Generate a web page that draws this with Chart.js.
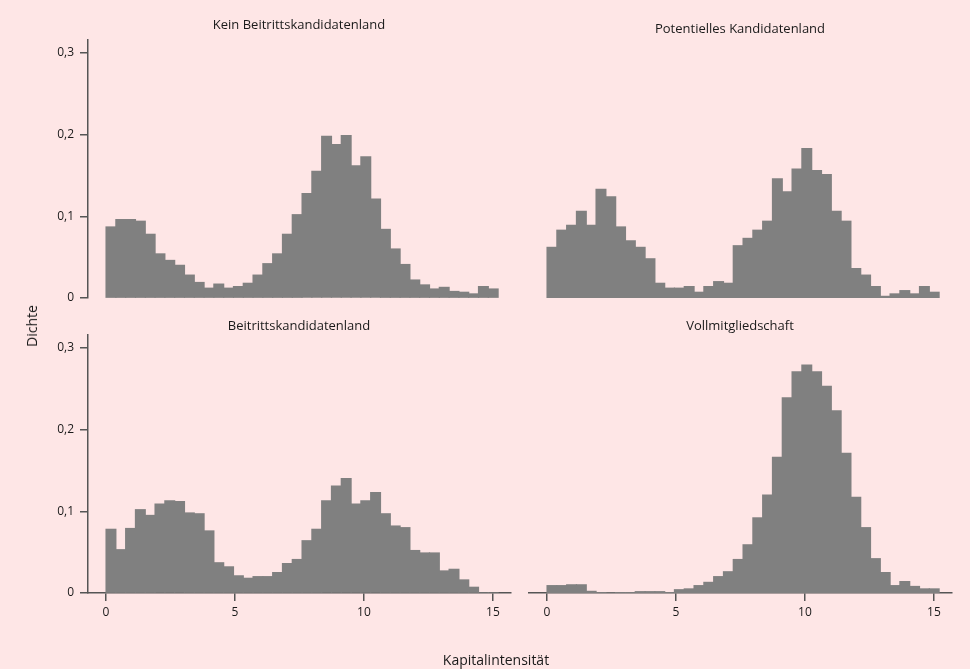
<!DOCTYPE html>
<html><head><meta charset="utf-8">
<script src="https://cdn.jsdelivr.net/npm/chart.js@4/dist/chart.umd.min.js"></script>
<style>
html,body{margin:0;padding:0;background:#fee6e6;}
#wrap{position:relative;width:970px;height:669px;overflow:hidden;font-family:"Open Sans",sans-serif;color:#1a1a1a;}
#wrap canvas{position:absolute;left:0;top:0;}
.lbl{position:absolute;white-space:nowrap;transform:translate(-50%,-50%);line-height:1;}
</style></head><body>
<div id="wrap">
<canvas id="c1" width="970" height="669"></canvas>
<canvas id="c2" width="970" height="669"></canvas>
<canvas id="c3" width="970" height="669"></canvas>
<canvas id="c4" width="970" height="669"></canvas>
<div class="lbl" id="t1" style="left:299px;top:24px;font-size:13px"></div>
<div class="lbl" id="t2" style="left:740px;top:28px;font-size:13px"></div>
<div class="lbl" id="t3" style="left:299px;top:325px;font-size:13px"></div>
<div class="lbl" id="t4" style="left:740px;top:325px;font-size:13px"></div>
<div class="lbl" id="ytitle" style="left:32px;top:326px;font-size:14px;transform:translate(-50%,-50%) rotate(-90deg)"></div>
<div class="lbl" id="xtitle" style="left:496px;top:660px;font-size:14px"></div>
</div>
<script>
// ---- data ----
const binEdges = [0,0.38,0.76,1.14,1.52,1.90,2.28,2.66,3.04,3.42,3.80,4.18,4.56,4.94,5.32,5.70,6.08,6.46,6.84,7.22,7.60,7.98,8.36,8.74,9.12,9.50,9.88,10.26,10.64,11.02,11.40,11.78,12.16,12.54,12.92,13.30,13.68,14.06,14.44,14.82,15.20];
const xTicks = [0,5,10,15];
const yTicks = [0,0.1,0.2,0.3];
const panelTitles = ["Kein Beitrittskandidatenland","Potentielles Kandidatenland","Beitrittskandidatenland","Vollmitgliedschaft"];
const yAxisTitle = "Dichte";
const xAxisTitle = "Kapitalintensität";

const keinBeitritt = [0.087,0.096,0.096,0.094,0.078,0.054,0.046,0.040,0.028,0.019,0.012,0.017,0.012,0.014,0.018,0.028,0.042,0.054,0.078,0.102,0.128,0.155,0.198,0.188,0.199,0.162,0.173,0.121,0.084,0.060,0.041,0.022,0.016,0.011,0.013,0.008,0.007,0.005,0.014,0.011];
const potentiell = [0.062,0.083,0.089,0.106,0.089,0.133,0.124,0.087,0.070,0.062,0.048,0.018,0.012,0.012,0.014,0.007,0.014,0.020,0.018,0.064,0.073,0.083,0.094,0.146,0.130,0.158,0.183,0.156,0.151,0.106,0.094,0.036,0.028,0.014,0.002,0.005,0.009,0.005,0.014,0.007];
const beitritt = [0.078,0.053,0.079,0.102,0.095,0.109,0.113,0.112,0.098,0.097,0.076,0.037,0.032,0.021,0.018,0.020,0.020,0.025,0.036,0.041,0.064,0.078,0.113,0.131,0.140,0.109,0.113,0.123,0.097,0.082,0.080,0.052,0.049,0.049,0.027,0.029,0.016,0.007,0,0];
const vollmitglied = [0.009,0.009,0.010,0.010,0.002,0.0004,0,0.0004,0.0004,0.0016,0.0016,0.0016,0.0004,0.004,0.005,0.009,0.013,0.020,0.026,0.041,0.059,0.092,0.120,0.166,0.239,0.271,0.279,0.271,0.253,0.223,0.171,0.117,0.080,0.042,0.025,0.009,0.014,0.008,0.005,0.005];

// ---- layout / style ----
const W = 970, H = 669;
const X_MIN = -0.7, X_MAX = 15.7, Y_MIN = 0, Y_MAX = 0.316;
const YW = 60, XH = 40;
const AXIS = '#555555', BAR = '#808080', TXT = '#1a1a1a';
const FONT = '"Open Sans", sans-serif';

document.getElementById('t1').textContent = panelTitles[0];
document.getElementById('t2').textContent = panelTitles[1];
document.getElementById('t3').textContent = panelTitles[2];
document.getElementById('t4').textContent = panelTitles[3];
document.getElementById('ytitle').textContent = yAxisTitle;
document.getElementById('xtitle').textContent = xAxisTitle;

const centers = binEdges.slice(0, -1).map((e, i) => (e + binEdges[i + 1]) / 2);
const fmt = v => String(Math.round(v * 10) / 10).replace('.', ',');

const panels = [
  {id:'c1', values:keinBeitritt, plot:{l:88, r:511, t:40,  b:298}, showY:true,  showX:false},
  {id:'c2', values:potentiell,   plot:{l:529,r:952, t:40,  b:298}, showY:false, showX:false},
  {id:'c3', values:beitritt,     plot:{l:88, r:511, t:335, b:593}, showY:true,  showX:true},
  {id:'c4', values:vollmitglied, plot:{l:529,r:952, t:335, b:593}, showY:false, showX:true},
];

panels.forEach(p => {
  const pad = {
    left: p.plot.l - (p.showY ? YW : 0),
    right: W - p.plot.r,
    top: p.plot.t,
    bottom: H - p.plot.b - (p.showX ? XH : 0)
  };
  new Chart(document.getElementById(p.id), {
    type: 'bar',
    data: {
      datasets: [{
        data: centers.map((c, i) => ({x: c, y: p.values[i]})),
        backgroundColor: BAR,
        borderWidth: 0,
        inflateAmount: 0.6,
        barPercentage: 1,
        categoryPercentage: 1
      }]
    },
    options: {
      responsive: false,
      animation: false,
      events: [],
      layout: {padding: pad},
      plugins: {legend: {display: false}, tooltip: {enabled: false}, title: {display: false}},
      scales: {
        x: {
          type: 'linear', min: X_MIN, max: X_MAX, offset: false,
          display: p.showX,
          afterBuildTicks: s => { s.ticks = xTicks.map(v => ({value: v})); },
          afterFit: s => { s.height = p.showX ? XH : 0; },
          grid: {display: true, offset: false, drawOnChartArea: false, drawTicks: true, tickLength: 8, color: AXIS, lineWidth: 1.5},
          border: {display: true, color: AXIS, width: 1.5},
          ticks: {color: TXT, padding: 4, maxRotation: 0, font: {family: FONT, size: 12}, callback: v => String(v)}
        },
        y: {
          type: 'linear', min: Y_MIN, max: Y_MAX,
          display: p.showY,
          afterBuildTicks: s => { s.ticks = yTicks.map(v => ({value: v})); },
          afterFit: s => { s.width = p.showY ? YW : 0; },
          grid: {display: true, offset: false, drawOnChartArea: false, drawTicks: true, tickLength: 8, color: AXIS, lineWidth: 1.5},
          border: {display: true, color: AXIS, width: 1.5},
          ticks: {color: TXT, padding: 6, font: {family: FONT, size: 12}, callback: v => fmt(v)}
        }
      }
    }
  });
});
</script>
</body></html>
